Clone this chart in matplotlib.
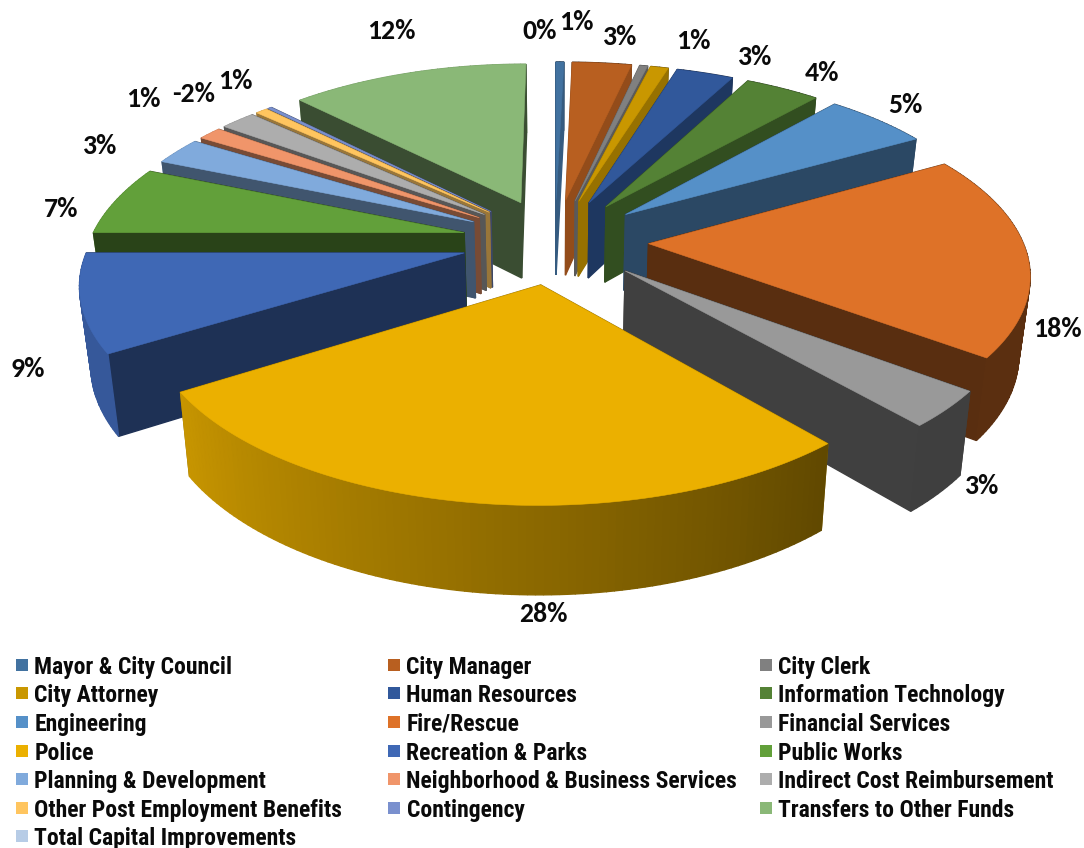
import numpy as np
import matplotlib
matplotlib.use("Agg")
import matplotlib.pyplot as plt
from matplotlib.patches import Polygon, Rectangle

categories = ["Mayor & City Council", "City Manager", "City Clerk", "City Attorney",
              "Human Resources", "Information Technology", "Engineering", "Fire/Rescue",
              "Financial Services", "Police", "Recreation & Parks", "Public Works",
              "Planning & Development", "Neighborhood & Business Services",
              "Indirect Cost Reimbursement", "Other Post Employment Benefits",
              "Contingency", "Transfers to Other Funds", "Total Capital Improvements"]
# share of each slice (printed labels are rounded)
values = [0.4, 3.0, 0.4, 0.9, 2.9, 3.8, 5.3, 18.6, 3.3, 27.5, 8.9, 6.3, 2.5, 1.2, 1.8, 0.6, 0.2, 12.4, 0.0]
colors = ["#4272A0", "#B85F20", "#808080", "#C99700", "#31589B", "#548235", "#5590C8", "#DE7228",
          "#999999", "#EBB000", "#3F68B5", "#62A03A", "#80AADC", "#F0956A", "#ADADAD", "#FFC55F",
          "#7A90CE", "#8AB877", "#B7CCE6"]
wall_shade = [0.8, 0.8, 0.7, 0.75, 0.62, 0.6, 0.5, 0.4, 0.42, 0.6, 0.47, 0.42, 0.5, 0.5, 0.5, 0.6, 0.5, 0.42, 0.5]

pct_labels = ["0%", "1%", "3%", "1%", "3%", "4%", "5%", "18%", "3%", "28%", "9%", "7%", "3%", "1%", "-2%", "1%", "12%"]
pct_x = [540, 576, 620, 693, 755, 822, 905, 1057, 982, 543, 28, 61, 100, 143, 194, 235, 391]
pct_y = [31, 22, 37, 41, 57, 73, 105, 329, 486, 614, 369, 209, 146, 99, 94, 81, 31]

legend_x = [16, 388, 760]
legend_y = [665, 693, 722, 751, 779, 808, 836]

# projection of the exploded pie
cx, cy = 555, 241
rx, ry = 374, 171
persp = 0.155
explode = 0.25


def project(X, Y, z=0.0):
    w = 1 + persp * Y
    if Y < 0:
        wx = 1 + 0.15 * Y
    elif X > 0:
        wx = 1 + 0.15 * Y
    else:
        wx = 1 + 0.18 * Y
    return cx + rx * X / wx * (1 - 0.024 * z), cy - ry * Y / w + z * (25 + 52 / w)


def shade(col, f):
    rgb = np.array(matplotlib.colors.to_rgb(col))
    return tuple(rgb * f)


def outer_shade(t):
    return np.interp(t, [90, 139, 238, 270], [0.41, 0.41, 0.85, 0.85])


fig = plt.figure(figsize=(10.84, 8.48), dpi=100)
ax = fig.add_axes([0, 0, 1, 1])
ax.set_xlim(0, 1084)
ax.set_ylim(848, 0)
ax.axis("off")

edges = np.concatenate([[0], np.cumsum(values)]) / sum(values) * 360
order = sorted(range(len(values)), key=lambda i: -np.cos(np.radians((edges[i] + edges[i + 1]) / 2)))

for i in order:
    a0, a1 = edges[i], edges[i + 1]
    if a1 - a0 <= 0:
        continue
    mid = np.radians((a0 + a1) / 2)
    ox, oy = explode * np.sin(mid), explode * np.cos(mid)
    t = np.linspace(a0, a1, max(3, int(a1 - a0)))
    xs = ox + np.sin(np.radians(t))
    ys = oy + np.cos(np.radians(t))

    quads = []
    for X, Y in [(xs[0], ys[0]), (xs[-1], ys[-1])]:
        q = [project(ox, oy), project(X, Y), project(X, Y, 1), project(ox, oy, 1)]
        quads.append(((oy + Y) / 2, q, shade(colors[i], wall_shade[i])))
    for k in range(len(t) - 1):
        q = [project(xs[k], ys[k]), project(xs[k + 1], ys[k + 1]),
             project(xs[k + 1], ys[k + 1], 1), project(xs[k], ys[k], 1)]
        quads.append(((ys[k] + ys[k + 1]) / 2, q, shade(colors[i], outer_shade((t[k] + t[k + 1]) / 2))))
    for _, q, c in sorted(quads, key=lambda r: -r[0]):
        ax.add_patch(Polygon(q, closed=True, facecolor=c, edgecolor=c, linewidth=1.0))

    top = [project(ox, oy)] + [project(X, Y) for X, Y in zip(xs, ys)]
    ax.add_patch(Polygon(top, closed=True, facecolor=colors[i], edgecolor=colors[i], linewidth=0.4))

for lab, x, y in zip(pct_labels, pct_x, pct_y):
    ax.text(x, y, lab, ha="center", va="center", fontsize=20, fontweight="bold",
            family=["Carlito", "Lato", "DejaVu Sans"], color="#0a0a0a")

for n, name in enumerate(categories):
    col = n % 3
    row = n // 3
    ax.add_patch(Rectangle((legend_x[col], legend_y[row] - 6), 12, 12, facecolor=colors[n], edgecolor="none"))
    ax.text(legend_x[col] + 18.5, legend_y[row], name, ha="left", va="center_baseline", fontsize=17,
            fontweight="bold", family=["Roboto Condensed", "Liberation Sans"], color="#0a0a0a")

fig.savefig("out.png", dpi=100)
